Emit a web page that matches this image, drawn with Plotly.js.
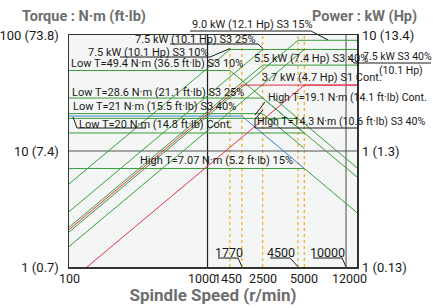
<!DOCTYPE html>
<html><head><meta charset="utf-8">
<script src="https://cdn.plot.ly/plotly-3.0.1.min.js"></script>
<style>html,body{margin:0;padding:0;background:#fff}#chart{width:433px;height:308px}</style>
</head><body><div id="chart"></div>
<script>
// ---------- data (rpm / N·m / kW) ----------
const xTickVals = [100, 1000, 1450, 2500, 5000, 12000];
const xTickText = ['100', '1000', '1450', '2500', '5000', '12000'];
const xTickShift = [0, -6, -2, 0, 0, -8];
const yTickVals = [1, 10, 100];
const yTickText = ['1 (0.7)', '10 (7.4)', '100 (73.8)'];
const y2TickVals = [0.1, 1, 10];
const y2TickText = ['1 (0.13)', '1 (1.3)', '10 (13.4)'];
const gridSpeeds = [1000, 10000];
const markerSpeeds = [1450, 1770, 2500, 4500, 5000];

// torque curves
const tqLow10Rpm = [100, 1450, 5000];  const tqLow10Nm = [49.4, 49.4, 14.3];
const tqLow25Rpm = [100, 2500, 5000];  const tqLow25Nm = [28.6, 28.6, 14.3];
const tqLow40Rpm = [100, 2500, 5000];  const tqLow40Nm = [21, 21, 10.5];
const tqLowContRpm = [100, 1770, 5000]; const tqLowContNm = [20, 20, 7.07];
const tqHigh19Rpm = [100, 4500, 12000]; const tqHigh19Nm = [19.1, 19.1, 7.16];
const tq9kwRpm = [3000, 4500];          const tq9kwNm = [28.6, 19.1];
const tqHigh14Rpm = [100, 5000, 12000]; const tqHigh14Nm = [14.3, 14.3, 5.97];
const tqHigh7Rpm = [100, 5000, 12000];  const tqHigh7Nm = [7.07, 7.07, 2.94];

// power curves
const pwLow10Rpm = [100, 1450, 12000];  const pwLow10Kw = [0.52, 7.5, 7.5];
const pwLow25Rpm = [100, 2500, 12000];  const pwLow25Kw = [0.30, 7.5, 7.5];
const pwLow40Rpm = [100, 2500, 12000];  const pwLow40Kw = [0.22, 5.5, 5.5];
const pwLowContRpm = [100, 1770, 12000]; const pwLowContKw = [0.21, 3.7, 3.7];
const pwHigh19Rpm = [100, 4500, 12000]; const pwHigh19Kw = [0.20, 9.0, 9.0];
const pwHigh14Rpm = [100, 5000, 12000]; const pwHigh14Kw = [0.15, 7.5, 7.5];
const pwHighContRpm = [135, 5000, 12000]; const pwHighContKw = [0.1, 3.7, 3.7];

// ---------- styling ----------
const FONT = 'Roboto, "Liberation Sans", sans-serif';
const GREEN = '#3c9c3c', RED = '#e0304a', BLUE = '#3d7fd0', ORANGE = '#f3b233';
const L = 69, T = 35, W = 288, H = 232;
const px = v => (v - L) / W;
const py = v => (T + H - v) / H;

const traces = [];
function line(x, y, color, axis, dash, width) {
  traces.push({x, y, type: 'scatter', mode: 'lines', yaxis: axis || 'y',
    line: {color, width: width || 1, dash: dash || 'solid'}, hoverinfo: 'skip', showlegend: false});
}
markerSpeeds.forEach(s => line([s, s], [1, 100], ORANGE, 'y', 'dot', 1.3));
line([gridSpeeds[0], gridSpeeds[0]], [1, 100], '#222', 'y', 'solid', 1.2);
line([gridSpeeds[1], gridSpeeds[1]], [1, 100], '#666', 'y', 'solid', 1.2);
line([100, 12000], [10, 10], '#555', 'y', 'solid', 1.2);

line(tqLow10Rpm, tqLow10Nm, GREEN);
line(tqLow25Rpm, tqLow25Nm, GREEN);
line(tqLow40Rpm, tqLow40Nm, GREEN);
line(tqHigh19Rpm, tqHigh19Nm, GREEN);
line(tq9kwRpm, tq9kwNm, GREEN);
line(tqHigh14Rpm, tqHigh14Nm, GREEN);
line(tqHigh7Rpm, tqHigh7Nm, GREEN);
line(tqLowContRpm, tqLowContNm, BLUE);
line(pwLow10Rpm, pwLow10Kw, GREEN, 'y2');
line(pwLow25Rpm, pwLow25Kw, GREEN, 'y2');
line(pwLow40Rpm, pwLow40Kw, GREEN, 'y2');
line(pwHigh19Rpm, pwHigh19Kw, GREEN, 'y2');
line(pwHigh14Rpm, pwHigh14Kw, GREEN, 'y2');
line(pwLowContRpm, pwLowContKw, RED, 'y2');
line(pwHighContRpm, pwHighContKw, RED, 'y2');

// ---------- annotations ----------
const LS = 11;
const labels = [
  ['9.0 kW (12.1 Hp) S3 15%', 190, 24.5, LS],
  ['7.5 kW (10.1 Hp) S3 25%', 133, 39, LS],
  ['7.5 kW (10.1 Hp) S3 10%', 86, 52, LS],
  ['Low T=49.4 N·m (36.5 ft·lb) S3 10%', 69, 63, LS],
  ['Low T=28.6 N·m (21.1 ft·lb) S3 25%', 70, 92, LS],
  ['Low T=21 N·m (15.5 ft·lb) S3 40%', 71, 106.5, LS],
  ['Low T=20 N·m (14.8 ft·lb) Cont.', 77, 124.5, LS],
  ['High T=7.07 N·m (5.2 ft·lb) 15%', 138, 160, LS],
  ['5.5 kW (7.4 Hp) S3 40%', 252, 58, LS],
  ['3.7 kW (4.7 Hp) S1 Cont.', 260, 78, LS],
  ['High T=19.1 N·m (14.1 ft·lb) Cont.', 266, 97, 10.6],
  ['High T=14.3 N·m (10.6 ft·lb) S3 40%', 255, 121.5, 10.6],
  ['7.5 kW S3 40%', 361, 56, 10.5],
  ['(10.1 Hp)', 377, 70, 10.5],
  ['1770', 213, 252.5, 12.5],
  ['4500', 265, 252.5, 12.5],
  ['10000', 308, 252.5, 12.5],
];
const annotations = labels.map(([text, x, y, size]) => ({
  text, x: px(x), y: py(y), xref: 'paper', yref: 'paper', xanchor: 'left', yanchor: 'middle',
  showarrow: false, font: {family: FONT, size, color: '#1a1a1a'}
}));
xTickVals.forEach((v, i) => annotations.push({
  text: xTickText[i], x: Math.log10(v), xref: 'x', y: 0, yref: 'paper', yanchor: 'top', xanchor: 'center',
  yshift: -2, xshift: xTickShift[i], showarrow: false, font: {family: FONT, size: 12.5, color: '#1a1a1a'}
}));
annotations.push(
  {text: 'Torque : N·m (ft·lb)', x: px(20), y: py(17), xref: 'paper', yref: 'paper', xanchor: 'left', yanchor: 'middle', showarrow: false, font: {family: FONT, size: 14.5, color: '#6e6e6e', weight: 'bold'}},
  {text: 'Power : kW (Hp)', x: px(310), y: py(17), xref: 'paper', yref: 'paper', xanchor: 'left', yanchor: 'middle', showarrow: false, font: {family: FONT, size: 14.5, color: '#6e6e6e', weight: 'bold'}}
);

const leaders = [
  [[190, 31], [311, 31], [328, 40]],
  [[170, 44], [258, 44], [263, 48.5]],
  [[120, 57], [210, 57], [230, 48.5]],
  [[73, 117], [77, 128], [146, 128]],
  [[348, 56], [354, 63], [431, 63]],
  [[265, 102], [255, 115]],
  [[263, 110], [255, 119], [255, 128], [357, 128]],
  [[218, 258], [238, 258], [242, 266.7]],
  [[270, 258], [290, 258], [298, 266.7]],
  [[313, 258], [342, 258], [346, 266.7]],
];
const shapes = [];
leaders.forEach(pts => {
  for (let i = 0; i < pts.length - 1; i++) {
    shapes.push({type: 'line', xref: 'paper', yref: 'paper',
      x0: px(pts[i][0]), y0: py(pts[i][1]), x1: px(pts[i + 1][0]), y1: py(pts[i + 1][1]),
      line: {color: '#1a1a1a', width: 1}});
  }
});

const axisFont = {family: FONT, size: 13, color: '#1a1a1a'};
const layout = {
  width: 433, height: 308,
  margin: {l: L, r: 433 - L - W, t: T, b: 308 - T - H, pad: 0},
  paper_bgcolor: '#ffffff', plot_bgcolor: '#f3f6f4',
  showlegend: false,
  xaxis: {type: 'log', range: [2, Math.log10(12000)], showticklabels: false,
    showgrid: false, zeroline: false, ticks: '',
    showline: true, linecolor: '#333', linewidth: 1.5, mirror: true,
    title: {text: 'Spindle Speed (r/min)', font: {family: FONT, size: 17, color: '#6e6e6e', weight: 'bold'}, standoff: 21}},
  yaxis: {type: 'log', range: [0, 2], tickvals: yTickVals, ticktext: yTickText,
    showgrid: false, zeroline: false, ticks: '', tickfont: axisFont, ticklabelstandoff: 6,
    showline: true, linecolor: '#333', linewidth: 1.5, mirror: true},
  yaxis2: {type: 'log', range: [-1, 1], overlaying: 'y', side: 'right', tickvals: y2TickVals, ticktext: y2TickText,
    showgrid: false, zeroline: false, ticks: '', tickfont: axisFont, ticklabelstandoff: 4, showline: false},
  annotations, shapes
};
Plotly.newPlot('chart', traces, layout, {staticPlot: true, displayModeBar: false});
</script></body></html>
